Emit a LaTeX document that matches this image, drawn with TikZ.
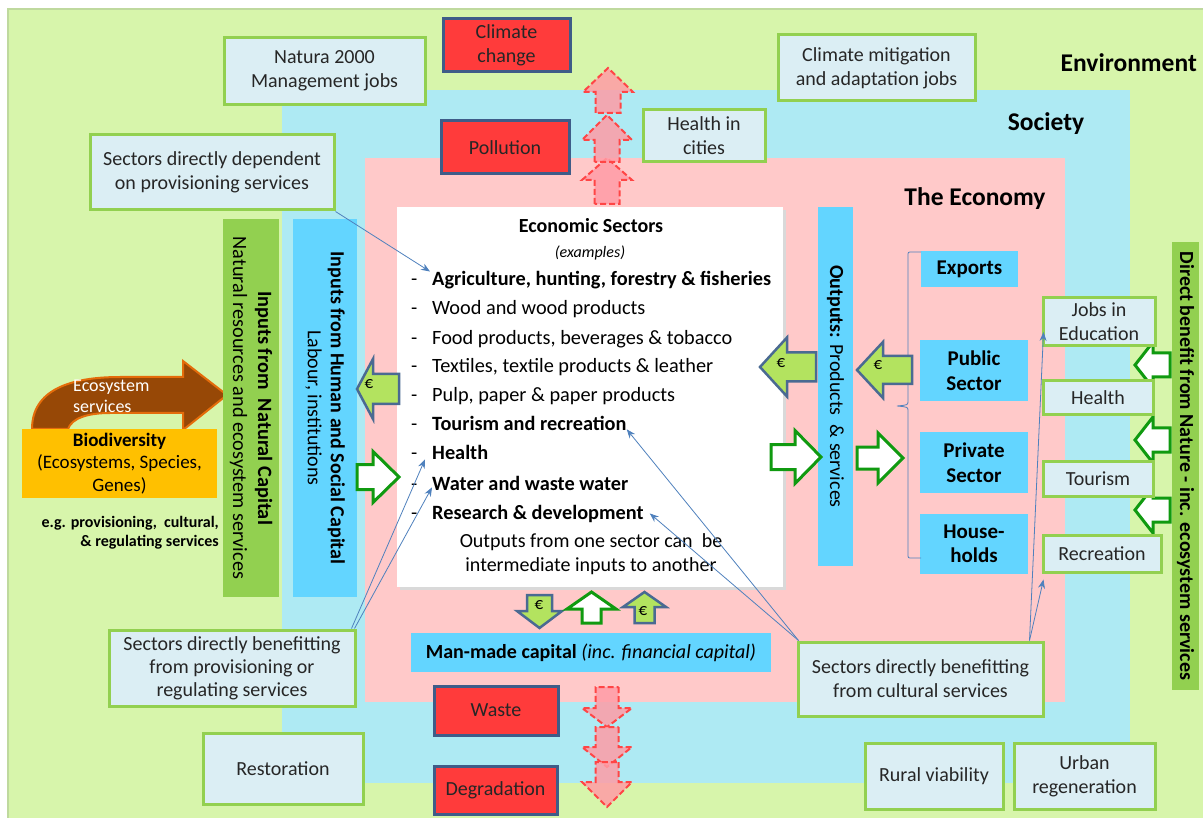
\documentclass[tikz,border=0pt]{standalone}
\usepackage{fontspec}
\setmainfont{Carlito}
\usetikzlibrary{arrows.meta}
\definecolor{envgreen}{HTML}{D7F5AB}
\definecolor{envborder}{HTML}{BFD99E}
\definecolor{socblue}{HTML}{AEEAF3}
\definecolor{econpink}{HTML}{FFC9C9}
\definecolor{boxfill}{HTML}{DBEEF4}
\definecolor{boxborder}{HTML}{92D050}
\definecolor{redfill}{HTML}{FF3B3B}
\definecolor{redborder}{HTML}{3F5C88}
\definecolor{cyanbar}{HTML}{63D5FF}
\definecolor{natgreen}{HTML}{92D050}
\definecolor{bioorange}{HTML}{FFC000}
\definecolor{brownarrow}{HTML}{974806}
\definecolor{orangeline}{HTML}{E46C0A}
\definecolor{eurofill}{HTML}{B3E35F}
\definecolor{euroline}{HTML}{4A6A92}
\definecolor{arrowgreen}{HTML}{109A10}
\definecolor{conncol}{HTML}{4F81BD}
\definecolor{dashred}{HTML}{FF4545}
\definecolor{dashfill}{HTML}{FF9CA6}
\newcommand{\fsz}[2]{\fontsize{#1}{#2}\selectfont}
% block arrow: style, x, y, angle, length, shaft half width, head half width, head length
\newcommand{\barrow}[8]{\begin{scope}[shift={(#2,#3)},rotate=#4]
\draw[#1] (-#5/2,-#6) -- (#5/2-#8,-#6) -- (#5/2-#8,-#7) -- (#5/2,0) -- (#5/2-#8,#7) -- (#5/2-#8,#6) -- (-#5/2,#6) -- cycle;
\end{scope}}
\begin{document}
\begin{tikzpicture}[x=1pt,y=-1pt,line join=miter,
  sz/.style 2 args={minimum width=#1pt, minimum height=#2pt},
  gbox/.style={draw=boxborder, fill=boxfill, line width=3pt, align=center, inner sep=0pt, font=\fsz{20}{24}, text=black!85},
  rbox/.style={draw=redborder, fill=redfill, line width=3pt, align=center, inner sep=0pt, font=\fsz{20}{24}, text=black!85},
  cyanbox/.style={fill=cyanbar, align=center, inner sep=0pt, font=\bfseries\fsz{21}{24.5}},
  euroarrow/.style={draw=euroline, fill=eurofill, line width=2.5pt},
  whitearrow/.style={draw=arrowgreen, fill=white, line width=3pt},
  redarrow/.style={draw=dashred, fill=dashfill, fill opacity=0.85, dash pattern=on 6pt off 3pt, line width=2pt},
  conn/.style={draw=conncol, line width=0.8pt, -{Stealth[length=9pt,width=7pt]}},
  item/.style={anchor=base west, inner sep=0pt, font=\fsz{20.3}{24}},
  header/.style={font=\bfseries\fsz{25.5}{30}, inner sep=0pt},
  euro/.style={font=\fsz{17}{20}, inner sep=0pt}]
\useasboundingbox (0,0) rectangle (1203,818);
\fill[white] (0,0) rectangle (1203,818);
\draw[envborder, fill=envgreen, line width=1.5pt] (8,9) rectangle (1212,828);
\fill[socblue] (282,90) rectangle (1130,783);
\fill[econpink] (365,158) rectangle (1065,702);

% headers
\node[header, anchor=east] (envlbl) at (1197,63) {Environment};
\node[header] (soclbl) at (1046,124) {Society};
\node[header] (ecolbl) at (975,199) {The Economy};

% red dashed arrows
\barrow{redarrow}{607}{181}{90}{46}{12.5}{25}{22}
\barrow{redarrow}{607}{138.5}{90}{47}{12.5}{25}{25}
\barrow{redarrow}{608}{90.5}{90}{45}{12.5}{25}{24}
\barrow{redarrow}{607}{707}{-90}{40}{11.5}{25}{19}
\barrow{redarrow}{607}{747}{-90}{40}{11.5}{25}{20}
\barrow{redarrow}{607}{784.5}{-90}{45}{11.5}{25}{25}

% light blue boxes
\node[gbox, sz={201}{67}] (natura) at (324.5,71) {Natura 2000\\Management jobs};
\node[gbox, sz={197}{66}] (climmit) at (876.5,68) {Climate mitigation\\and adaptation jobs};
\node[gbox, sz={122}{52}] (healthcities) at (704,136) {Health in\\cities};
\node[gbox, sz={244}{75}] (secdep) at (212,172.5) {Sectors directly dependent\\on provisioning services};
\node[gbox, sz={160}{71}] (restoration) at (283,768.5) {Restoration};
\node[gbox, sz={138}{66}] (rural) at (934,776) {Rural viability};
\node[gbox, sz={141}{66}] (urban) at (1084.5,776) {Urban\\regeneration};
\node[gbox, sz={246}{76}, font=\fsz{20}{23}] (secprov) at (232,668) {Sectors directly benefitting\\from provisioning or\\regulating services};
\node[gbox, sz={245}{74}] (seccult) at (920.5,679) {Sectors directly benefitting\\from cultural services};

% red boxes
\node[rbox, sz={127}{53}] (climchange) at (506.5,45.5) {Climate\\change};
\node[rbox, sz={128}{53}] (pollution) at (505,147.5) {Pollution};
\node[rbox, sz={124}{49}] (waste) at (496,710.5) {Waste};
\node[rbox, sz={123}{48}] (degradation) at (495.5,790) {Degradation};

% ecosystem services arrow and biodiversity
\draw[fill=brownarrow, draw=orangeline, line width=2pt] (32,429) .. controls (32,390) and (70,377) .. (120,377) -- (183,377) -- (183,361) -- (227,395) -- (183,430) -- (183,413) -- (110,413) .. controls (88,413) and (72,418) .. (68,429) -- cycle;
\node[anchor=west, text=white, font=\fsz{18}{21}, align=left, inner sep=0pt] (ecolab) at (73,396.5) {Ecosystem\\services};
\node[fill=bioorange, sz={195}{69}, align=center, inner sep=0pt, font=\fsz{19}{22.5}] (biodiv) at (119.5,463.5) {\textbf{Biodiversity}\\(Ecosystems, Species,\\Genes)};
\node[anchor=east, align=right, inner sep=0pt, font=\bfseries\fsz{16}{19}] (eg) at (219,533) {e.g. provisioning,\ \ cultural,\\\& regulating services};

% vertical bars
\node[fill=natgreen, rotate=-90, sz={378}{56}, align=center, inner sep=0pt, font=\fsz{20.3}{25}] (natbar) at (251,408) {\textbf{Inputs from\ \ Natural Capital}\\Natural resources and ecosystem services};
\node[fill=cyanbar, rotate=-90, sz={378}{64}, align=center, inner sep=0pt, font=\fsz{20}{23}] (humbar) at (325,408) {\textbf{Inputs from Human and Social Capital}\\Labour, institutions};
\node[fill=cyanbar, rotate=-90, sz={359}{35}, inner sep=0pt, font=\fsz{20}{23}] (outbar) at (835.5,386.5) {\textbf{Outputs:} Products\ \ \& services};
\node[fill=natgreen, rotate=-90, sz={447}{27}, inner sep=0pt, font=\bfseries\fsz{20}{23}] (directbar) at (1185.5,466) {Direct benefit from Nature - inc. ecosystem services};

% economic sectors box
\fill[black!15] (400,210) rectangle (786,590);
\node[fill=white, sz={386}{380}, inner sep=0pt] (econ) at (590,397) {};
\node[font=\bfseries\fsz{20}{24}, inner sep=0pt] (ectitle) at (591,226) {Economic Sectors};
\node[font=\itshape\fsz{16}{19}, inner sep=0pt] (examples) at (590,253) {(examples)};
\node[item] (agri) at (432,286) {\textbf{Agriculture, hunting, forestry \& fisheries}};
\node[item] (wood) at (432,315) {Wood and wood products};
\node[item] (food) at (432,345) {Food products, beverages \& tobacco};
\node[item] (textiles) at (432,373) {Textiles, textile products \& leather};
\node[item] (pulp) at (432,402) {Pulp, paper \& paper products};
\node[item] (tourism) at (432,431) {\textbf{Tourism and recreation}};
\node[item] (health) at (432,460) {\textbf{Health}};
\node[item] (water) at (432,490) {\textbf{Water and waste water}};
\node[item] (research) at (432,519) {\textbf{Research \& development}};
\foreach \yy [count=\k] in {286,315,345,373,402,431,460,490,519}
  \node[item] (dash\k) at (411,\yy) {-};
\node[align=center, inner sep=0pt, font=\fsz{20}{24}] (outnote) at (591,554) {Outputs from\ one sector can\ \ be\\intermediate\ inputs to another};

% man-made capital
\node[fill=cyanbar, sz={360}{39}, inner sep=0pt, font=\fsz{20}{23}] (manmade) at (591,652.5) {\textbf{Man-made capital} \textit{(inc. financial capital)}};

% output sectors
\node[cyanbox, sz={97}{36}] (exports) at (969.5,269) {Exports};
\node[cyanbox, sz={108}{61}] (public) at (974,370.5) {Public\\Sector};
\node[cyanbox, sz={108}{61}] (private) at (974,462.5) {Private\\Sector};
\node[cyanbox, sz={108}{60}] (households) at (974,544) {House-\\holds};
\draw[conncol, line width=0.8pt] (921,252) -- (912,252) .. controls (908,252) .. (908,256) -- (908,401) .. controls (908,405) .. (897,406) .. controls (908,407) .. (908,411) -- (908,554) .. controls (908,558) .. (912,558) -- (921,558);

% direct benefit arrows
\barrow{whitearrow}{1152.5}{365}{180}{35}{12}{23}{18}
\barrow{whitearrow}{1152.5}{440}{180}{35}{12}{23}{18}
\barrow{whitearrow}{1152.5}{510}{180}{35}{12}{23}{18}
\node[gbox, sz={112}{48}] (jobsedu) at (1099,322) {Jobs in\\Education};
\node[gbox, sz={110}{34}] (health2) at (1098,398) {Health};
\node[gbox, sz={110}{35}] (tourism2) at (1098,478.5) {Tourism};
\node[gbox, sz={118}{37}] (recreation) at (1102,553.5) {Recreation};

% flow arrows
\barrow{euroarrow}{378}{389}{180}{42}{15}{30}{16}
\node[euro] (e1) at (369,384) {€};
\barrow{whitearrow}{378}{477}{0}{42}{12.5}{25.5}{26}
\barrow{euroarrow}{788}{367}{180}{56}{14.5}{29.5}{27}
\node[euro] (e2) at (781,363) {€};
\barrow{whitearrow}{796}{457}{0}{50}{12.5}{26.5}{26}
\barrow{euroarrow}{884.5}{370}{180}{55}{14}{28}{26}
\node[euro] (e3) at (878,365) {€};
\barrow{whitearrow}{880}{458}{0}{46}{11}{25}{25}
\barrow{euroarrow}{539.5}{611.5}{-90}{33}{12.5}{22.5}{17}
\node[euro] (e4) at (539,605) {€};
\barrow{whitearrow}{591.5}{607.5}{90}{31}{9.5}{24.5}{17}
\barrow{euroarrow}{644.5}{607.5}{90}{31}{10}{21.5}{15}
\node[euro] (e5) at (643,611) {€};

% connectors
\draw[conn] (secdep.south east) -- ([xshift=-2pt]agri.north west);
\draw[conn] ([xshift=-5pt]secprov.north east) -- ([xshift=-7pt,yshift=1pt]health.south west);
\draw[conn] ([xshift=-2pt]secprov.north east) -- ([xshift=0pt,yshift=3pt]water.south west);
\draw[conn] ([xshift=2pt]seccult.north west) -- ([yshift=2pt]tourism.south east);
\draw[conn] ([xshift=2pt]seccult.north west) -- ([xshift=6pt]research.east);
\draw[conn] ([xshift=-15pt]seccult.north east) -- ([xshift=2pt,yshift=-10pt]jobsedu.west);
\draw[conn] ([xshift=-15pt]seccult.north east) -- ([xshift=2pt,yshift=-6pt]recreation.south west);
\end{tikzpicture}
\end{document}
